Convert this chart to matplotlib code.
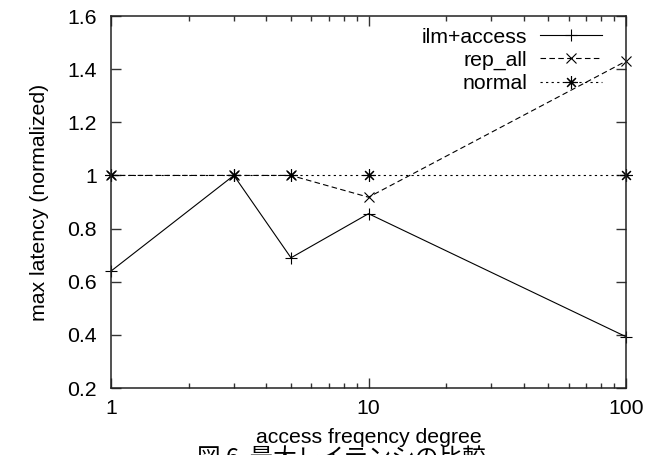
import matplotlib
matplotlib.use("Agg")
import matplotlib.pyplot as plt
from matplotlib.ticker import FixedLocator, FuncFormatter, NullFormatter

plt.rcParams['font.family'] = ['Liberation Sans', 'Noto Sans CJK JP', 'DejaVu Sans']

freq = [1, 3, 5, 10, 100]
ilm_access = [0.64, 1.0, 0.69, 0.856, 0.393]
rep_all = [1.0, 1.0, 1.0, 0.918, 1.43]
normal = [1.0, 1.0, 1.0, 1.0, 1.0]

yticks = [0.2, 0.4, 0.6, 0.8, 1.0, 1.2, 1.4, 1.6]
xticks = [1, 10, 100]
xminor = [2, 3, 4, 5, 6, 7, 8, 9, 20, 30, 40, 50, 60, 70, 80, 90]

fs = 15.3

fig = plt.figure(figsize=(6.61, 4.55), dpi=100)
ax = fig.add_axes([111/661, 67/455, 515/661, 372/455])

lw = 0.8
ax.plot(freq, ilm_access, color="black", lw=lw, ls="-", marker="+", ms=9, mew=lw,
        label="ilm+access", clip_on=False)
ax.plot(freq, rep_all, color="black", lw=lw, ls=(0, (5, 3)), marker="x", ms=7, mew=lw,
        label="rep_all", clip_on=False)
ax.plot(freq, normal, color="black", lw=lw, ls=(0, (2, 3)), marker=(8, 2, 0), ms=9, mew=lw,
        label="normal", clip_on=False)

ax.set_xscale("log")
ax.set_xlim(1, 100)
ax.set_ylim(0.2, 1.6)
ax.xaxis.set_major_locator(FixedLocator(xticks))
ax.xaxis.set_minor_locator(FixedLocator(xminor))
ax.xaxis.set_major_formatter(FuncFormatter(lambda v, p: "%g" % v))
ax.xaxis.set_minor_formatter(NullFormatter())
ax.yaxis.set_major_locator(FixedLocator(yticks))
ax.yaxis.set_major_formatter(FuncFormatter(lambda v, p: "%g" % v))

ax.tick_params(which="both", direction="in", top=True, right=True, labelsize=fs,
               width=1.0, color="#333333")
ax.tick_params(which="major", length=7.5)
ax.tick_params(axis="x", which="major", pad=8)
ax.tick_params(axis="y", which="major", pad=10)
ax.tick_params(which="minor", length=3.5)
for s in ax.spines.values():
    s.set_linewidth(1.1)
    s.set_color("#222222")

ax.set_xlabel("access freqency degree", fontsize=fs, labelpad=7)
ax.set_ylabel("max latency (normalized)", fontsize=fs, labelpad=13)

ax.legend(loc="upper right", bbox_to_anchor=(0.99, 1.02), frameon=False, markerfirst=False,
          fontsize=fs, handlelength=2.9, handletextpad=0.6, labelspacing=0.2)

fig.text(197/661, 8/455, "図 6  最大レイテンシの比較", fontsize=17, ha="left", va="top",
         family=['Noto Sans CJK JP', 'DejaVu Sans'])

fig.savefig("out.png", dpi=100)
